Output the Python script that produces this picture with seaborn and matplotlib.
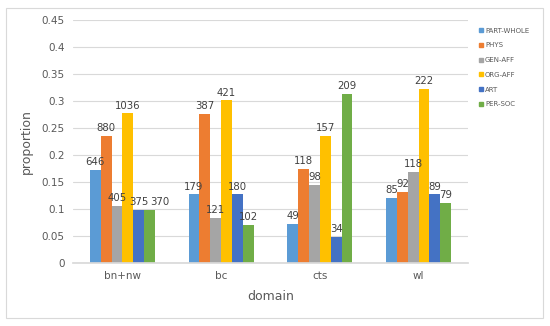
import matplotlib
matplotlib.use("Agg")
import matplotlib.pyplot as plt
import seaborn as sns
import pandas as pd
from matplotlib.lines import Line2D
from matplotlib.patches import Rectangle
from matplotlib.ticker import FuncFormatter

domains = ["bn+nw", "bc", "cts", "wl"]
relations = ["PART-WHOLE", "PHYS", "GEN-AFF", "ORG-AFF", "ART", "PER-SOC"]
proportions = {
    "PART-WHOLE": [0.172, 0.127, 0.072, 0.121],
    "PHYS":       [0.235, 0.276, 0.174, 0.132],
    "GEN-AFF":    [0.106, 0.084, 0.144, 0.169],
    "ORG-AFF":    [0.277, 0.301, 0.235, 0.322],
    "ART":        [0.098, 0.127, 0.048, 0.127],
    "PER-SOC":    [0.098, 0.071, 0.313, 0.112],
}
counts = {
    "PART-WHOLE": [646, 179, 49, 85],
    "PHYS":       [880, 387, 118, 92],
    "GEN-AFF":    [405, 121, 98, 118],
    "ORG-AFF":    [1036, 421, 157, 222],
    "ART":        [375, 180, 34, 89],
    "PER-SOC":    [370, 102, 209, 79],
}
colors = ["#5B9BD5", "#ED7D31", "#A5A5A5", "#FFC000", "#4472C4", "#70AD47"]

rows = []
for r in relations:
    for d, p in zip(domains, proportions[r]):
        rows.append({"domain": d, "relation": r, "proportion": p})
df = pd.DataFrame(rows)

sns.set_theme(style="white")
plt.rcParams["font.family"] = ["DejaVu Sans"]

fig = plt.figure(figsize=(5.5, 3.26), dpi=100)
ax = fig.add_axes([73/550, 1-263/326, (468-73)/550, (263-20)/326])

sns.barplot(data=df, x="domain", y="proportion", hue="relation",
            order=domains, hue_order=relations, palette=colors,
            width=0.66, gap=0, errorbar=None, ax=ax, legend=False,
            saturation=1, linewidth=0)

for cont, r in zip(ax.containers, relations):
    texts = ax.bar_label(cont, labels=[str(c) for c in counts[r]], padding=2,
                         fontsize=7.3, color="#404040")
    if r == "PER-SOC":
        # nudge the first group's label right to avoid overlapping ART's
        x, y = texts[0].xy
        texts[0].set_x(x)
        texts[0].xyann = (texts[0].xyann[0] + 7, texts[0].xyann[1])

ax.set_ylim(0, 0.45)
ax.set_yticks([i*0.05 for i in range(10)])
ax.yaxis.set_major_formatter(FuncFormatter(lambda v, p: f"{v:.2f}".rstrip("0").rstrip(".") if v else "0"))
ax.grid(axis="y", color="#D9D9D9", linewidth=0.8)
ax.set_axisbelow(True)
for s in ["top", "right", "left"]:
    ax.spines[s].set_visible(False)
ax.spines["bottom"].set_color("#D9D9D9")
ax.tick_params(axis="both", length=0, labelsize=7.5, colors="#595959", pad=6)
ax.set_xlabel("domain", fontsize=9, color="#595959", labelpad=6)
ax.set_ylabel("proportion", fontsize=9, color="#595959", labelpad=6)

handles = [Line2D([0], [0], marker="s", linestyle="none", markersize=2.5,
                  markerfacecolor=c, markeredgecolor=c) for c in colors]
fig.legend(handles, relations, loc="upper left",
           bbox_to_anchor=(476/550, 1-25/326), frameon=False,
           fontsize=5, labelspacing=1.25, handlelength=0.6,
           handletextpad=0.3, labelcolor="#595959", borderaxespad=0)

fig.patches.append(Rectangle((6/550, 8/326), (543-6)/550, (318-8)/326,
                             transform=fig.transFigure, fill=False,
                             edgecolor="#D9D9D9", linewidth=0.8))

fig.savefig("out.png", dpi=100)
